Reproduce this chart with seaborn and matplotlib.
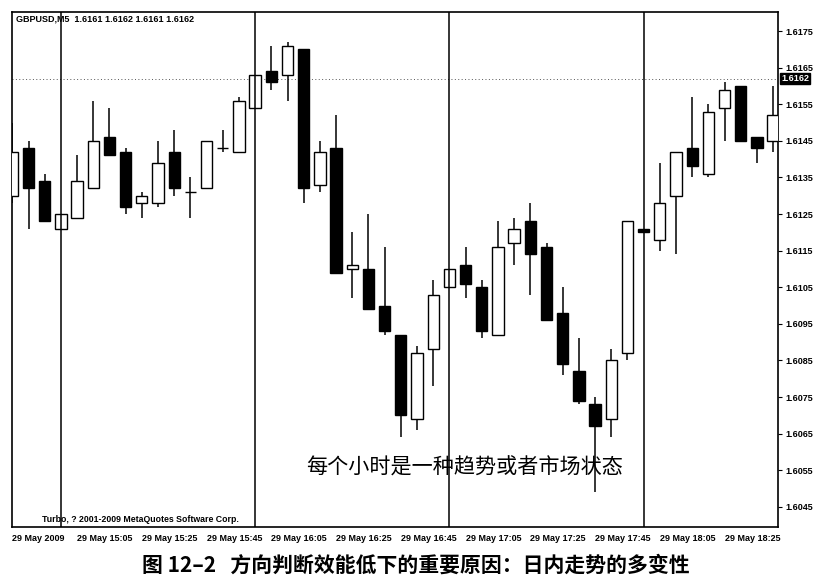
import numpy as np
import pandas as pd
import matplotlib.pyplot as plt
import seaborn as sns

# GBPUSD M5 bars, 29 May 2009, 14:45 -> 18:40
opens = [1.6130, 1.6143, 1.6134, 1.6121, 1.6124, 1.6132, 1.6146, 1.6142, 1.6128, 1.6128,
         1.6142, 1.6131, 1.6132, 1.6143, 1.6142, 1.6154, 1.6164, 1.6163, 1.6170, 1.6133,
         1.6143, 1.6110, 1.6110, 1.6100, 1.6092, 1.6069, 1.6088, 1.6105, 1.6111, 1.6105,
         1.6092, 1.6117, 1.6123, 1.6116, 1.6098, 1.6082, 1.6073, 1.6069, 1.6087, 1.6121,
         1.6118, 1.6130, 1.6143, 1.6136, 1.6154, 1.6160, 1.6146, 1.6145]
highs = [1.6150, 1.6145, 1.6136, 1.6125, 1.6141, 1.6156, 1.6154, 1.6143, 1.6131, 1.6145,
         1.6148, 1.6135, 1.6145, 1.6148, 1.6157, 1.6163, 1.6171, 1.6172, 1.6170, 1.6145,
         1.6152, 1.6120, 1.6125, 1.6116, 1.6092, 1.6089, 1.6107, 1.6110, 1.6116, 1.6107,
         1.6123, 1.6124, 1.6128, 1.6117, 1.6105, 1.6091, 1.6075, 1.6088, 1.6123, 1.6121,
         1.6139, 1.6142, 1.6157, 1.6155, 1.6161, 1.6160, 1.6146, 1.6160]
lows = [1.6128, 1.6121, 1.6123, 1.6121, 1.6124, 1.6132, 1.6141, 1.6125, 1.6124, 1.6127,
        1.6130, 1.6124, 1.6132, 1.6142, 1.6142, 1.6154, 1.6159, 1.6156, 1.6128, 1.6131,
        1.6109, 1.6102, 1.6099, 1.6092, 1.6064, 1.6066, 1.6078, 1.6105, 1.6102, 1.6091,
        1.6092, 1.6111, 1.6103, 1.6096, 1.6081, 1.6073, 1.6049, 1.6064, 1.6085, 1.6120,
        1.6115, 1.6114, 1.6135, 1.6135, 1.6145, 1.6145, 1.6139, 1.6142]
closes = [1.6142, 1.6132, 1.6123, 1.6125, 1.6134, 1.6145, 1.6141, 1.6127, 1.6130, 1.6139,
          1.6132, 1.6131, 1.6145, 1.6143, 1.6156, 1.6163, 1.6161, 1.6171, 1.6132, 1.6142,
          1.6109, 1.6111, 1.6099, 1.6093, 1.6070, 1.6087, 1.6103, 1.6110, 1.6106, 1.6093,
          1.6116, 1.6121, 1.6114, 1.6096, 1.6084, 1.6074, 1.6067, 1.6085, 1.6123, 1.6120,
          1.6128, 1.6142, 1.6138, 1.6153, 1.6159, 1.6145, 1.6143, 1.6152]

x_tick_bars = [0, 4, 8, 12, 16, 20, 24, 28, 32, 36, 40, 44]
x_tick_labels = ['29 May 2009', '29 May 15:05', '29 May 15:25', '29 May 15:45',
                 '29 May 16:05', '29 May 16:25', '29 May 16:45', '29 May 17:05',
                 '29 May 17:25', '29 May 17:45', '29 May 18:05', '29 May 18:25']
y_ticks = [1.6045, 1.6055, 1.6065, 1.6075, 1.6085, 1.6095, 1.6105,
           1.6115, 1.6125, 1.6135, 1.6145, 1.6155, 1.6165, 1.6175]
hour_separators = [3, 15, 27, 39]
last_price = 1.6162

header = 'GBPUSD,M5  1.6161 1.6162 1.6161 1.6162'
copyright_txt = 'Turbo, ? 2001-2009 MetaQuotes Software Corp.'
note = '每个小时是一种趋势或者市场状态'
caption = '图 12–2   方向判断效能低下的重要原因：日内走势的多变性'

df = pd.DataFrame({'open': opens, 'high': highs, 'low': lows, 'close': closes})
df['bar'] = np.arange(len(df))
df['up'] = df['close'] >= df['open']
df['body_lo'] = df[['open', 'close']].min(axis=1)
df['body_h'] = (df['close'] - df['open']).abs()

sns.set_theme(style='white')
plt.rcParams['font.family'] = ['Liberation Sans', 'DejaVu Sans']
plt.rcParams['text.color'] = 'black'

W, H = 838, 586
fig = plt.figure(figsize=(W / 100, H / 100), dpi=100)
ax = fig.add_axes([12 / W, 59 / H, 766 / W, 515 / H])

# wicks
ax.vlines(df['bar'], df['low'], df['high'], color='black', lw=1.1, zorder=2)
# bodies
ax.bar(df['bar'], df['body_h'], bottom=df['body_lo'], width=0.7,
       color=np.where(df['up'], 'white', 'black'), edgecolor='black',
       linewidth=1.0, zorder=3)

# period separators and current price line
for b in hour_separators:
    ax.axvline(b, color='black', lw=1.1, zorder=4)
ax.axhline(last_price, color='#555555', lw=0.7, ls=(0, (1, 2.5)), zorder=1)

ax.set_xlim(-0.02, 47.3)
ax.set_ylim(1.60395, 1.61802)

ax.yaxis.tick_right()
ax.set_yticks(y_ticks)
ax.set_yticklabels([f'{v:.4f}' for v in y_ticks])
ax.set_xticks(x_tick_bars)
ax.set_xticklabels(x_tick_labels, ha='left')
ax.tick_params(axis='both', direction='out', length=3, width=0.8, color='black',
               labelsize=6.5, pad=2, labelcolor='black')
for lab in ax.get_xticklabels() + ax.get_yticklabels():
    lab.set_fontweight('bold')
for s in ax.spines.values():
    s.set_visible(True)
    s.set_color('black')
    s.set_linewidth(1.2)
ax.grid(False)

ax.text(1.004, last_price, f'{last_price:.4f}', transform=ax.get_yaxis_transform(),
        color='white', fontsize=6.5, fontweight='bold', va='center', ha='left',
        bbox=dict(boxstyle='square,pad=0.15', fc='black', ec='black'))

fig.text(16 / W, 1 - 19 / H, header, fontsize=6.5, fontweight='bold', va='center', ha='left')
fig.text(42 / W, 1 - 519 / H, copyright_txt, fontsize=6.3, fontweight='bold', va='center', ha='left')
fig.text(465 / W, 1 - 468 / H, note, fontsize=15.2, va='center', ha='center', color='black',
         fontweight='medium', family=['Noto Sans CJK SC', 'DejaVu Sans'], zorder=3)
fig.text(416 / W, 1 - 565 / H, caption, fontsize=15, fontweight='bold', va='center', ha='center',
         color='black', family=['Noto Sans CJK SC', 'DejaVu Sans'])

fig.savefig('out.png', dpi=100, facecolor='white')
